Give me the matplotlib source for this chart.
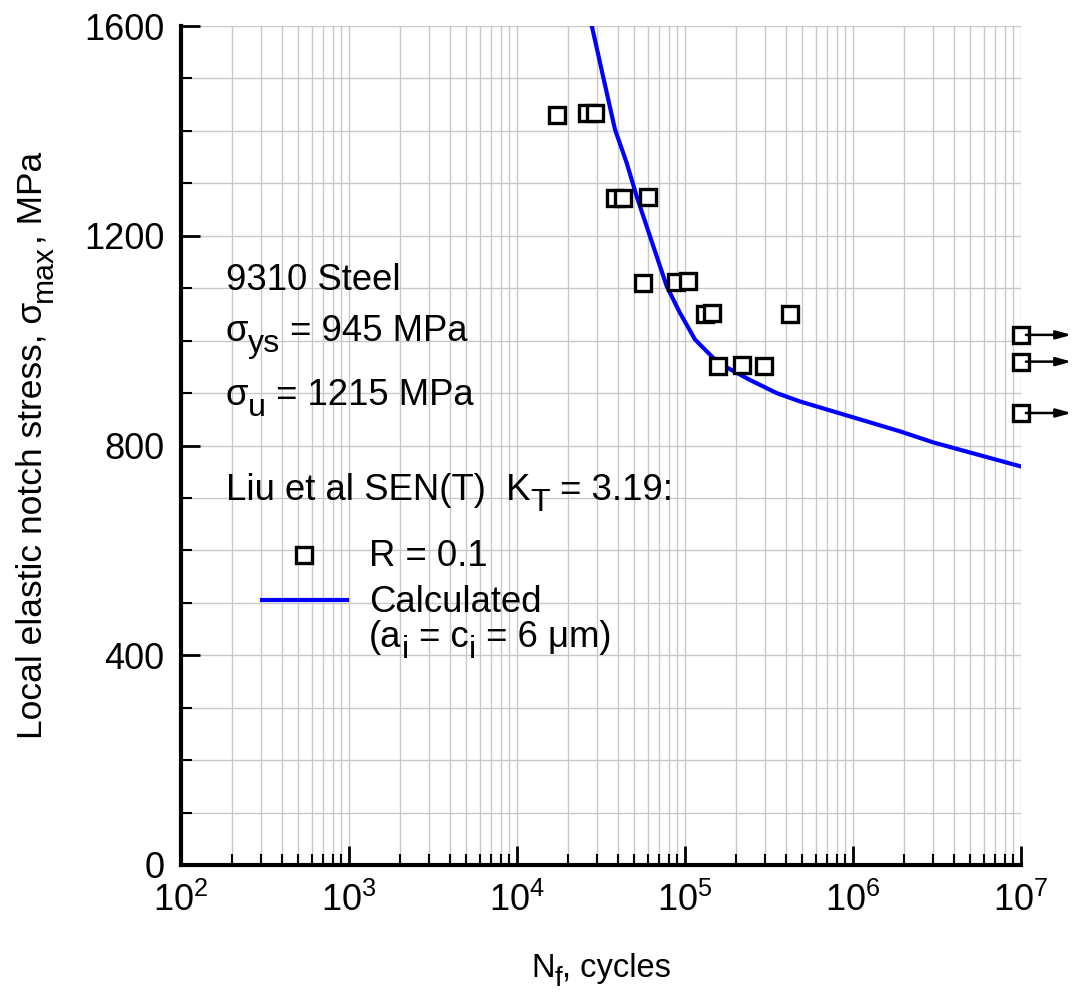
import matplotlib
matplotlib.use("Agg")
import matplotlib.pyplot as plt
from matplotlib.ticker import LogLocator, MultipleLocator
from matplotlib.transforms import offset_copy
import numpy as np

plt.rcParams['font.family'] = ['Liberation Sans', 'DejaVu Sans']
plt.rcParams['mathtext.fontset'] = 'custom'
plt.rcParams['mathtext.rm'] = 'Liberation Sans'
plt.rcParams['mathtext.it'] = 'Liberation Sans'
plt.rcParams['mathtext.bf'] = 'Liberation Sans:bold'

# Test data, R = 0.1 (failures)
test_N = [17200, 26000, 29100, 38300, 43000, 60500, 56500, 88300, 104700,
          131500, 144000, 421000, 158000, 217000, 295000]
test_S = [1431, 1434, 1434, 1272, 1272, 1274, 1109, 1111, 1113,
          1050, 1053, 1050, 951, 953, 951]

# Runouts at 1e7 cycles
runout_N = [1.0e7, 1.0e7, 1.0e7]
runout_S = [1011, 960, 862]

# Calculated curve (a_i = c_i = 6 um)
calc_N = [27900, 32700, 38300, 44970, 51600, 61900, 77800, 93300, 114800,
          147400, 177000, 243600, 351500, 484000, 764000, 1.208e6, 1.905e6,
          3.0e6, 1.0e7]
calc_S = [1600, 1501, 1403, 1339, 1275, 1199, 1104, 1053, 1002,
          967, 949, 925, 900, 884, 865, 846, 827, 806, 760]

DPI = 100
fig = plt.figure(figsize=(10.78, 9.94), dpi=DPI)
ax = fig.add_axes([0.1679, 0.1298, 0.9471 - 0.1679, 0.9738 - 0.1298])

ax.set_xscale('log')
ax.set_xlim(1e2, 1e7)
ax.set_ylim(0, 1600)

ax.xaxis.set_major_locator(LogLocator(base=10, numticks=10))
ax.xaxis.set_minor_locator(LogLocator(base=10, subs=np.arange(2, 10), numticks=20))
ax.yaxis.set_major_locator(MultipleLocator(400))
ax.yaxis.set_minor_locator(MultipleLocator(100))

ax.grid(True, which='both', color='#c8c8c8', lw=1.0)
ax.set_axisbelow(True)

for s in ['top', 'right']:
    ax.spines[s].set_visible(False)
for s in ['left', 'bottom']:
    ax.spines[s].set_linewidth(3)

ax.tick_params(which='major', direction='in', length=14, width=2, labelsize=26, pad=13)
ax.tick_params(which='minor', direction='in', length=8, width=1.5)
ax.tick_params(axis='y', which='major', pad=12)

ax.plot(calc_N, calc_S, color='#0000ff', lw=3, zorder=3)
ax.plot(test_N, test_S, ls='none', marker='s', ms=11, mfc='white', mec='black',
        mew=2.4, zorder=4)
ax.plot(runout_N, runout_S, ls='none', marker='s', ms=11, mfc='white', mec='black',
        mew=2.4, zorder=5, clip_on=False)
for n, s in zip(runout_N, runout_S):
    ax.annotate('', xy=(n * 2.0, s), xytext=(n * 1.07, s),
                arrowprops=dict(arrowstyle='-|>,head_length=0.9,head_width=0.25',
                                color='black', lw=1.8, shrinkA=0, shrinkB=0),
                annotation_clip=False, zorder=6)

renderer = fig.canvas.get_renderer()


def measure(txt, size):
    t = fig.text(0, 0, txt, fontsize=size)
    w = t.get_window_extent(renderer).width
    t.remove()
    return w * 72.0 / DPI


def rich(x, y, pieces, fs, transform, center=False, rotation=0):
    """pieces: list of (text, size factor, vertical shift in units of font size)."""
    widths = [measure(txt, fs * f) for txt, f, dy in pieces]
    off = -sum(widths) / 2.0 if center else 0.0
    for (txt, f, dy), w in zip(pieces, widths):
        if rotation == 90:
            tr = offset_copy(transform, fig=fig, x=-dy * fs, y=off, units='points')
        else:
            tr = offset_copy(transform, fig=fig, x=off, y=dy * fs, units='points')
        fig.text(x, y, txt, transform=tr, fontsize=fs * f, va='baseline', ha='left',
                 rotation=rotation, rotation_mode='anchor')
        off += w


SUB = 0.88
DROP = -0.30
FS = 26.3
TA = ax.transAxes
tx = 0.053
rich(tx, 0.685, [('9310 Steel', 1, 0)], FS, TA)
rich(tx, 0.624, [('\u03c3', 1, 0), ('ys', SUB, DROP), (' = 945 MPa', 1, 0)], FS, TA)
rich(tx, 0.548, [('\u03c3', 1, 0), ('u', SUB, DROP), (' = 1215 MPa', 1, 0)], FS, TA)
rich(tx, 0.435, [('Liu et al SEN(T)  K', 1, 0), ('T', SUB, DROP), (' = 3.19:', 1, 0)], FS, TA)

# legend-like entries
ax.plot([0.147], [0.370], transform=ax.transAxes, marker='s', ms=11, mfc='white',
        mec='black', mew=2.4, ls='none')
rich(0.224, 0.356, [('R = 0.1', 1, 0)], FS, TA)
ax.plot([0.097, 0.198], [0.316, 0.316], transform=ax.transAxes, color='#0000ff', lw=3)
rich(0.224, 0.302, [('Calculated', 1, 0)], FS, TA)
rich(0.224, 0.260, [('(a', 1, 0), ('i', SUB, DROP), (' = c', 1, 0), ('i', SUB, DROP),
                    (' = 6 \u03bcm)', 1, 0)], FS, TA)

# axis labels
TF = fig.transFigure
rich(601 / 1078, 1 - 977 / 994,
     [('N', 1, 0), ('f', 0.85, -0.28), (', cycles', 1, 0)], 23.5, TF, center=True)
rich(42 / 1078, 1 - 445.5 / 994,
     [('Local elastic notch stress, \u03c3', 1, 0), ('max', 0.85, -0.28), (', MPa', 1, 0)],
     25.5, TF, center=True, rotation=90)

fig.savefig('out.png', dpi=DPI)
